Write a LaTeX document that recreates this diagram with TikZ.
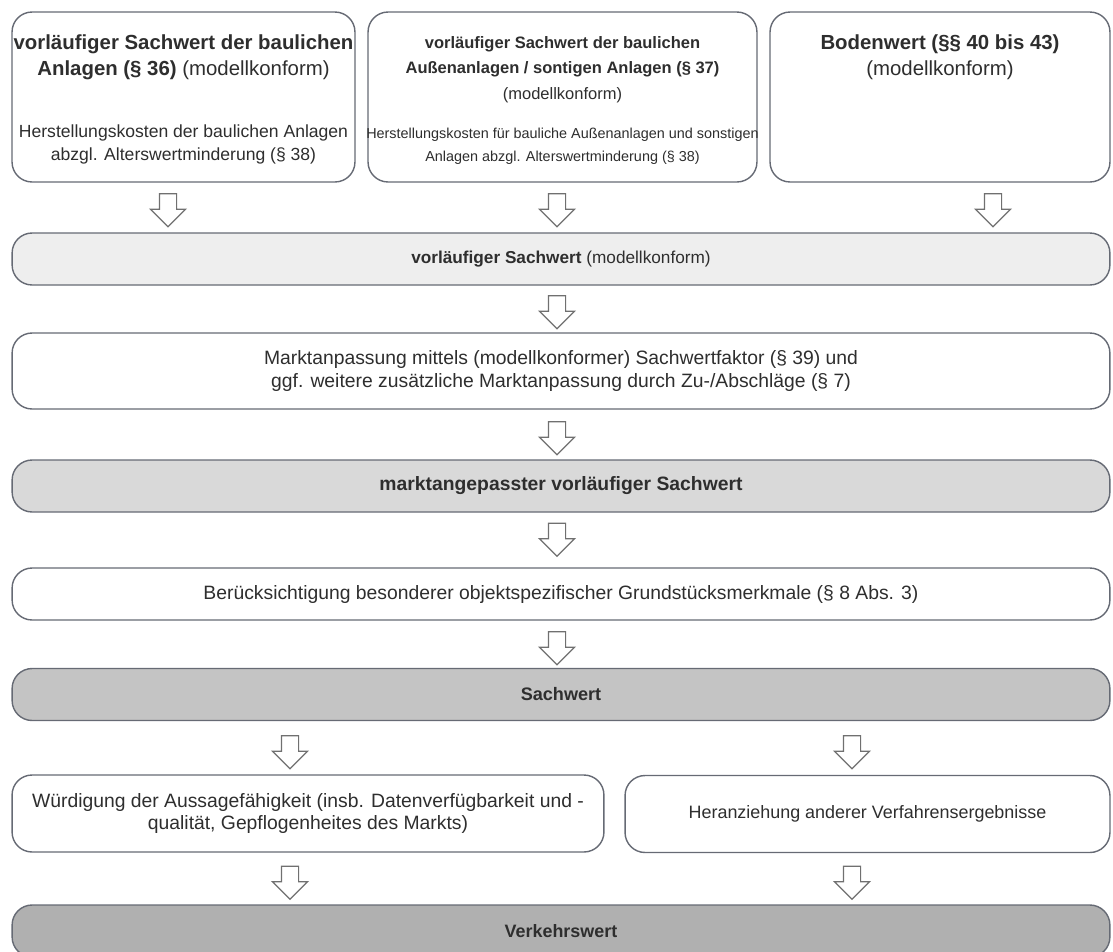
\documentclass[tikz,border=0pt]{standalone}
\usepackage{fontspec}
\setmainfont{Liberation Sans}
\usetikzlibrary{positioning, shapes.arrows}
\definecolor{lineGray}{HTML}{666A74}
\definecolor{arrowGray}{HTML}{707070}
\definecolor{textDark}{HTML}{2E2E2E}
\definecolor{barLight}{HTML}{EEEEEE}
\definecolor{barMid}{HTML}{D9D9D9}
\definecolor{barDark}{HTML}{C4C4C4}
\definecolor{barDeep}{HTML}{B0B0B0}

\begin{document}
\begin{tikzpicture}[x=0.02cm, y=-0.02cm,
    topbox/.style={rectangle, rounded corners=0.4cm, draw=lineGray, line width=0.8pt,
                   fill=white, minimum height=3.4cm, inner sep=0pt},
    ttl/.style={font=\fontsize{#1}{14.4}\selectfont\color{textDark}, align=center, inner sep=0pt},
    ttl/.default=11.6,
    desc/.style={font=\fontsize{#1}{13}\selectfont\color{textDark}, align=center, inner sep=0pt},
    desc/.default=10,
    bar/.style={rectangle, rounded corners=0.4cm, draw=lineGray, line width=0.8pt, fill=#1,
                minimum width=21.96cm, minimum height=1.04cm, inner sep=0pt,
                font=\fontsize{11}{12.8}\selectfont\color{textDark}, align=center},
    bar/.default=white,
    fsize/.style={font=\fontsize{#1}{12.8}\selectfont\color{textDark}},
    darr/.style={single arrow, draw=arrowGray, fill=white, line width=0.7pt,
                 shape border rotate=270, minimum height=0.66cm, inner sep=0.16cm,
                 single arrow head extend=0.18cm},
  ]
    \useasboundingbox (0,0) rectangle (1113,951);
    \clip (0,0) rectangle (1113,951);

    % top row: the three partial values
    \node[topbox, minimum width=6.86cm] (b1) at (183.5,97) {};
    \node[topbox, minimum width=7.78cm] (b2) at (562.5,97) {};
    \node[topbox, minimum width=6.8cm] (b3) at (940,97) {};
    \node[ttl, below=0.47cm of b1.north]
      {\textbf{vorläufiger Sachwert der baulichen}\\\textbf{Anlagen (§ 36)} (modellkonform)};
    \node[desc, above=0.36cm of b1.south]
      {Herstellungskosten der baulichen Anlagen\\abzgl. Alterswertminderung (§ 38)};
    \node[ttl=9.4, below=0.5cm of b2.north]
      {\textbf{vorläufiger Sachwert der baulichen}\\\textbf{Außenanlagen / sontigen Anlagen (§ 37)}\\(modellkonform)};
    \node[desc=8.2, above=0.36cm of b2.south]
      {Herstellungskosten für bauliche Außenanlagen und sonstigen\\Anlagen abzgl. Alterswertminderung (§ 38)};
    \node[ttl, below=0.47cm of b3.north]
      {\textbf{Bodenwert (§§ 40 bis 43)}\\(modellkonform)};

    % main chain
    \node[bar=barLight, fsize=9.8] (s1) at (561,259) {\textbf{vorläufiger Sachwert} (modellkonform)};
    \node[bar, minimum height=1.52cm] (m1) at (561,371)
      {Marktanpassung mittels (modellkonformer) Sachwertfaktor (§ 39) und\\ggf. weitere zusätzliche Marktanpassung durch Zu-/Abschläge (§ 7)};
    \node[bar=barMid] (s2) at (561,486) {\textbf{marktangepasster vorläufiger Sachwert}};
    \node[bar] (m2) at (561,594)
      {Berücksichtigung besonderer objektspezifischer Grundstücksmerkmale (§ 8 Abs. 3)};
    \node[bar=barDark, fsize=10.3] (s3) at (561,694.5) {\textbf{Sachwert}};
    \node[bar, minimum width=11.84cm, minimum height=1.54cm] (w1) at (308,813.5)
      {Würdigung der Aussagefähigkeit (insb. Datenverfügbarkeit und -\\qualität, Gepflogenheites des Markts)};
    \node[bar, minimum width=9.7cm, minimum height=1.54cm, fsize=10.2] (w2) at (867.5,814)
      {Heranziehung anderer Verfahrensergebnisse};
    \node[bar=barDeep, fsize=10.2] (v) at (561,931) {\textbf{Verkehrswert}};

    % block arrows
    \node[darr] (a1) at (168,206) {};
    \node[darr] (a2) at (557,206) {};
    \node[darr] (a3) at (993,206) {};
    \node[darr] (a4) at (557,308) {};
    \node[darr] (a5) at (557,434) {};
    \node[darr] (a6) at (557,535.5) {};
    \node[darr] (a7) at (557,644) {};
    \node[darr] (a8) at (290,748) {};
    \node[darr] (a9) at (852,748) {};
    \node[darr] (a10) at (290,878.5) {};
    \node[darr] (a11) at (852,878.5) {};
  \end{tikzpicture}
\end{document}
